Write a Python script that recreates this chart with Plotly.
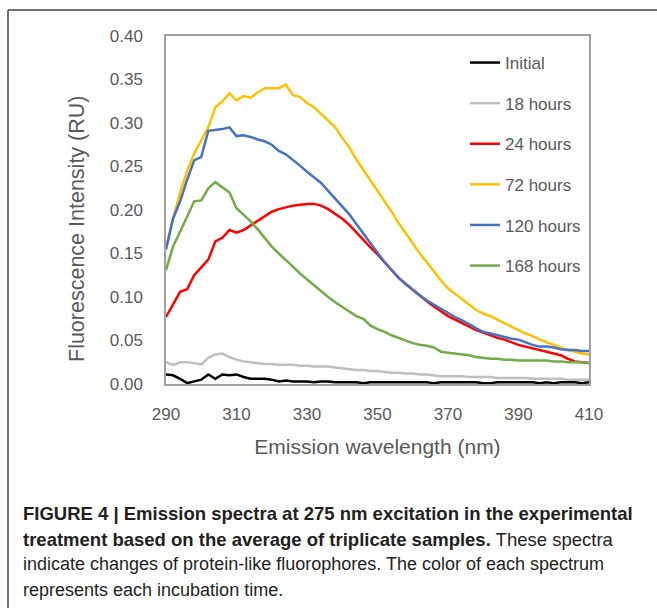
import plotly.graph_objects as go

wavelength = list(range(290, 411, 2))

initial = [0.011, 0.010, 0.006, 0.001, 0.003, 0.005, 0.011, 0.006, 0.011, 0.010,
           0.011, 0.008, 0.006, 0.006, 0.006, 0.005, 0.003, 0.004, 0.003, 0.003,
           0.003, 0.002, 0.003, 0.003, 0.002, 0.002, 0.002, 0.002, 0.001, 0.002,
           0.002, 0.002, 0.002, 0.002, 0.002, 0.002, 0.002, 0.002, 0.001, 0.002,
           0.002, 0.002, 0.002, 0.002, 0.002, 0.001, 0.001, 0.002, 0.002, 0.002,
           0.002, 0.002, 0.002, 0.001, 0.002, 0.001, 0.002, 0.002, 0.002, 0.001, 0.002]

h18 = [0.025, 0.022, 0.025, 0.025, 0.024, 0.0225, 0.030, 0.034, 0.035, 0.031,
       0.028, 0.026, 0.025, 0.024, 0.023, 0.023, 0.022, 0.022, 0.022, 0.021,
       0.021, 0.020, 0.020, 0.020, 0.019, 0.018, 0.017, 0.016, 0.016, 0.015,
       0.015, 0.014, 0.013, 0.013, 0.012, 0.012, 0.011, 0.011, 0.010, 0.009,
       0.009, 0.009, 0.009, 0.008, 0.008, 0.008, 0.008, 0.007, 0.007, 0.007,
       0.007, 0.007, 0.006, 0.006, 0.006, 0.006, 0.006, 0.005, 0.005, 0.005, 0.005]

h24 = [0.077, 0.092, 0.106, 0.109, 0.125, 0.134, 0.143, 0.164, 0.168, 0.177,
       0.174, 0.177, 0.182, 0.188, 0.193, 0.198, 0.201, 0.203, 0.205, 0.206,
       0.207, 0.207, 0.205, 0.201, 0.196, 0.190, 0.183, 0.174, 0.165, 0.157,
       0.149, 0.140, 0.131, 0.122, 0.115, 0.108, 0.101, 0.095, 0.089, 0.083,
       0.078, 0.074, 0.070, 0.066, 0.062, 0.059, 0.056, 0.053, 0.051, 0.048,
       0.045, 0.043, 0.041, 0.039, 0.037, 0.035, 0.033, 0.029, 0.026, 0.025, 0.024]

h72 = [0.155, 0.190, 0.220, 0.245, 0.265, 0.280, 0.295, 0.318, 0.325, 0.334,
       0.326, 0.331, 0.329, 0.335, 0.340, 0.340, 0.340, 0.344, 0.332, 0.330,
       0.323, 0.318, 0.310, 0.302, 0.295, 0.283, 0.272, 0.258, 0.246, 0.235,
       0.222, 0.210, 0.198, 0.185, 0.173, 0.161, 0.150, 0.140, 0.129, 0.119,
       0.110, 0.104, 0.097, 0.091, 0.085, 0.081, 0.078, 0.074, 0.070, 0.066,
       0.062, 0.058, 0.055, 0.051, 0.048, 0.045, 0.042, 0.039, 0.037, 0.035, 0.034]

h120 = [0.155, 0.190, 0.210, 0.235, 0.257, 0.261, 0.291, 0.292, 0.293, 0.295,
        0.285, 0.286, 0.284, 0.281, 0.279, 0.275, 0.268, 0.264, 0.258, 0.251,
        0.244, 0.237, 0.231, 0.222, 0.213, 0.204, 0.195, 0.184, 0.173, 0.162,
        0.151, 0.140, 0.131, 0.122, 0.115, 0.108, 0.102, 0.096, 0.091, 0.086,
        0.081, 0.077, 0.073, 0.069, 0.064, 0.060, 0.058, 0.056, 0.054, 0.052,
        0.051, 0.048, 0.045, 0.043, 0.043, 0.042, 0.040, 0.039, 0.039, 0.038, 0.038]

h168 = [0.131, 0.158, 0.175, 0.193, 0.210, 0.211, 0.225, 0.232, 0.226, 0.220,
        0.202, 0.195, 0.187, 0.178, 0.168, 0.158, 0.150, 0.143, 0.135, 0.127,
        0.120, 0.113, 0.106, 0.100, 0.094, 0.089, 0.084, 0.078, 0.075, 0.067,
        0.063, 0.060, 0.056, 0.053, 0.050, 0.047, 0.045, 0.044, 0.042, 0.037,
        0.036, 0.035, 0.034, 0.033, 0.031, 0.030, 0.029, 0.029, 0.028, 0.028,
        0.027, 0.027, 0.027, 0.027, 0.027, 0.026, 0.026, 0.025, 0.025, 0.025, 0.024]

series_names = ["Initial", "18 hours", "24 hours", "72 hours", "120 hours", "168 hours"]
series_values = [initial, h18, h24, h72, h120, h168]
series_colors = ["#000000", "#BFBFBF", "#FF0000", "#FFC000", "#4472C4", "#70AD47"]

x_ticks = [290, 310, 330, 350, 370, 390, 410]
y_ticks = [0.0, 0.05, 0.10, 0.15, 0.20, 0.25, 0.30, 0.35, 0.40]

FONT = "Liberation Sans, Arial, sans-serif"

fig = go.Figure()
for i, (name, vals, col) in enumerate(zip(series_names, series_values, series_colors)):
    fig.add_trace(go.Scatter(x=wavelength, y=vals, mode="lines", name=name,
                             legendgroup=f"g{i}",
                             line=dict(color=col, width=2.5)))

W, H = 657, 608
L, R, T, B = 166, 68, 36, 224
pw, ph = W - L - R, H - T - B

def px_x(p):
    return (p - L) / pw

def px_y(p):
    return (H - B - p) / ph

fig.update_layout(
    width=W, height=H,
    margin=dict(l=L, r=R, t=T, b=B, autoexpand=False),
    paper_bgcolor="white", plot_bgcolor="white",
    font=dict(family=FONT, color="#595959", size=17),
    showlegend=True,
    legend=dict(x=px_x(465), y=px_y(45), xanchor="left", yanchor="top",
                bgcolor="rgba(0,0,0,0)", font=dict(size=17, color="#595959"),
                tracegroupgap=15.5, itemwidth=30),
    xaxis=dict(range=[290, 410], tickvals=x_ticks, ticktext=[str(v) for v in x_ticks],
               showgrid=False, zeroline=False, showline=True, linecolor="#A0A0A0",
               linewidth=1.5, mirror=True, ticks="", ticklabelstandoff=14,
               title=dict(text="Emission wavelength (nm)", font=dict(size=21, color="#595959"),
                          standoff=16)),
    yaxis=dict(range=[0, 0.40], tickvals=y_ticks, ticktext=[f"{v:.2f}" for v in y_ticks],
               showgrid=False, zeroline=False, showline=True, linecolor="#A0A0A0",
               linewidth=1.5, mirror=True, ticks="", ticklabelstandoff=18),
)

# y-axis title placed as rotated text (its centre sits below the plot-area centre)
fig.add_annotation(text="Fluorescence Intensity (RU)", xref="paper", yref="paper",
                   x=px_x(77), y=px_y(229), xanchor="center", yanchor="middle",
                   textangle=-90, showarrow=False,
                   font=dict(family=FONT, size=21.5, color="#595959"))

# outer figure frame (left and top edges)
fig.add_shape(type="line", xref="paper", yref="paper",
              x0=px_x(8), x1=px_x(700), y0=px_y(10), y1=px_y(10),
              line=dict(color="#444444", width=1.5))
fig.add_shape(type="line", xref="paper", yref="paper",
              x0=px_x(8), x1=px_x(8), y0=px_y(10), y1=px_y(640),
              line=dict(color="#444444", width=1.5))

caption_lines = [
    "<b>FIGURE 4 | Emission spectra at 275 nm excitation in the experimental</b>",
    "<b>treatment based on the average of triplicate samples.</b> These spectra",
    "indicate changes of protein-like fluorophores. The color of each spectrum",
    "represents each incubation time.",
]
caption_sizes = [18.5, 18.5, 18, 18]
caption_y = [513, 539, 564, 590]
for txt, yy, sz in zip(caption_lines, caption_y, caption_sizes):
    fig.add_annotation(text=txt, xref="paper", yref="paper", x=px_x(21), y=px_y(yy),
                       xanchor="left", yanchor="middle", showarrow=False,
                       font=dict(family=FONT, size=sz, color="#231F20"))

fig.write_html("out.html", config={"displayModeBar": False},
               post_script="document.body.style.margin='0px';")
